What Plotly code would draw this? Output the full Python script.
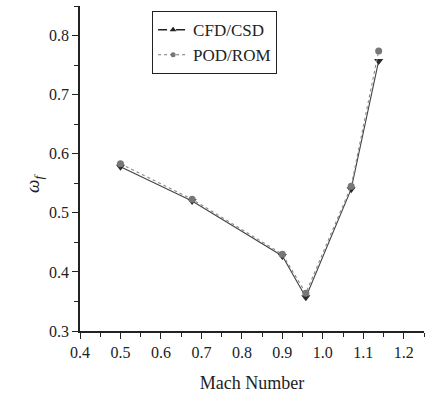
import plotly.graph_objects as go

mach = [0.5, 0.677, 0.9, 0.958, 1.07, 1.138]
cfd_csd = [0.578, 0.520, 0.427, 0.357, 0.540, 0.757]
pod_rom = [0.583, 0.523, 0.430, 0.364, 0.545, 0.774]

x_ticks = [0.4, 0.5, 0.6, 0.7, 0.8, 0.9, 1.0, 1.1, 1.2]
x_tick_labels = ["0.4", "0.5", "0.6", "0.7", "0.8", "0.9", "1.0", "1.1", "1.2"]
y_ticks = [0.3, 0.4, 0.5, 0.6, 0.7, 0.8]
y_tick_labels = ["0.3", "0.4", "0.5", "0.6", "0.7", "0.8"]

FONT = "Liberation Serif, Times New Roman, serif"

fig = go.Figure()
fig.add_trace(go.Scatter(
    x=mach, y=cfd_csd, mode="lines+markers", name="CFD/CSD", showlegend=False,
    line=dict(color="#444444", width=1.1),
    marker=dict(symbol="triangle-down", size=8, color="#2a2a2a"),
))
fig.add_trace(go.Scatter(
    x=mach, y=pod_rom, mode="lines+markers", name="POD/ROM", showlegend=False,
    line=dict(color="#8a8a8a", width=1.1, dash="dot"),
    marker=dict(symbol="circle", size=7, color="#777777"),
))
# legend entries
fig.add_trace(go.Scatter(
    x=[None], y=[None], mode="lines+markers", name="CFD/CSD",
    line=dict(color="#222222", width=1.5, dash="dash"),
    marker=dict(symbol="triangle-up", size=6, color="#222222"),
))
fig.add_trace(go.Scatter(
    x=[None], y=[None], mode="lines+markers", name="POD/ROM",
    line=dict(color="#777777", width=1.2, dash="dot"),
    marker=dict(symbol="circle", size=5, color="#777777"),
))

axis_common = dict(
    showgrid=False, zeroline=False, showline=True, linecolor="#222222", linewidth=1.5,
    ticks="outside", ticklen=6, tickwidth=1.3, tickcolor="#222222",
    tickfont=dict(family=FONT, size=16, color="#222222"),
    minor=dict(ticks="outside", ticklen=4, tickwidth=1, tickcolor="#222222", dtick=0.05),
)

fig.update_layout(
    width=426, height=394,
    margin=dict(l=80, r=2, t=6, b=63),
    paper_bgcolor="white", plot_bgcolor="white",
    font=dict(family=FONT, color="#222222"),
    xaxis=dict(range=[0.4, 1.25], tickvals=x_ticks, ticktext=x_tick_labels,
               title=dict(text="Mach Number", font=dict(family=FONT, size=18, color="#222222"), standoff=16),
               **axis_common),
    yaxis=dict(range=[0.3, 0.85], tickvals=y_ticks, ticktext=y_tick_labels, **axis_common),
    legend=dict(
        x=0.209, y=0.985, xanchor="left", yanchor="top",
        bordercolor="#222222", borderwidth=1.2, bgcolor="white",
        font=dict(family=FONT, size=17, color="#222222"),
        itemwidth=30, tracegroupgap=0,
    ),
    annotations=[dict(
        text="<i>ω<sub>f</sub></i>", xref="paper", yref="paper",
        x=-0.175, y=0.455, showarrow=False, textangle=-90,
        font=dict(family=FONT, size=19, color="#222222"),
    )],
)

fig.write_html("out.html")
